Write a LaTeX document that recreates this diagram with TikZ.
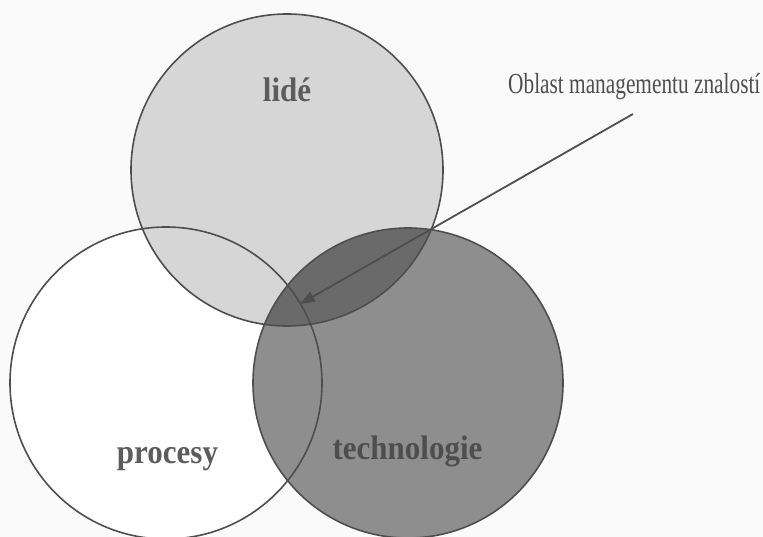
\documentclass[tikz,border=0pt]{standalone}
\usepackage{fontspec}
\setmainfont{Liberation Serif}
\usetikzlibrary{arrows.meta}
\definecolor{bgc}{HTML}{FAFAFA}
\definecolor{linec}{HTML}{4E4E4E}
\definecolor{lightf}{HTML}{D6D6D6}
\definecolor{darkf}{HTML}{8E8E8E}
\definecolor{darkerf}{HTML}{6A6A6A}
\definecolor{txtc}{HTML}{5C5C5C}
\definecolor{txtd}{HTML}{4E4E4E}
\tikzset{
  ring/.style={circle, draw=linec, line width=1.6pt, minimum size=#1, inner sep=0pt},
  bigword/.style={anchor=base, inner sep=0pt, text=txtc, font=\fontsize{31}{32}\selectfont\bfseries},
  callout/.style={anchor=base west, inner sep=0pt, text=txtd, font=\fontsize{29}{30}\selectfont},
  pointer/.style={draw=linec, line width=1.8pt, -{Triangle[length=15pt,width=11pt]}}
}
\begin{document}
\begin{tikzpicture}[x=1pt,y=-1pt]
\useasboundingbox (0,0) rectangle (763,537);
\fill[bgc] (0,0) rectangle (763,537);
% fills
\fill[white] (166,383) circle (156);
\fill[darkf] (408,383) circle (155);
\fill[lightf] (287,170) circle (156);
\begin{scope}
  \clip (408,383) circle (155);
  \fill[darkerf] (287,170) circle (156);
\end{scope}
% outlines as nodes
\node[ring=312pt] (procesyC) at (166,383) {};
\node[ring=310pt] (techC) at (408,383) {};
\node[ring=312pt] (lideC) at (287,170) {};
% labels
\node[bigword] (lide) at (287,102) {\scalebox{1}[1.1]{lidé}};
\node[bigword] (procesy) at (167.5,463) {\scalebox{1}[1.1]{procesy}};
\node[bigword, text=txtd] (tech) at (407.5,459) {\scalebox{1}[1.1]{technologie}};
\node[callout] (oblast) at (508,94) {\scalebox{0.735}[1]{Oblast managementu znalostí}};
% arrow
\coordinate (arrStart) at (633,114);
\coordinate (arrTip) at (300,304);
\draw[pointer] (arrStart) -- (arrTip);
\end{tikzpicture}
\end{document}
